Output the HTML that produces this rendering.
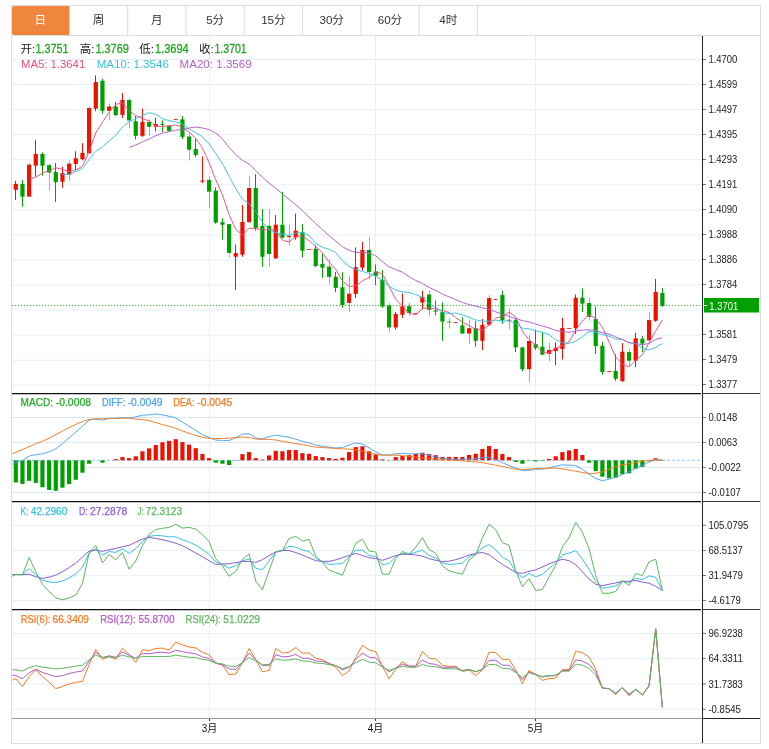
<!DOCTYPE html>
<html lang="zh"><head><meta charset="utf-8"><title>K线图</title>
<style>html,body{margin:0;padding:0;background:#fff}body{width:769px;height:749px;overflow:hidden;font-family:"Liberation Sans", "Noto Sans CJK SC", sans-serif}svg{display:block;will-change:transform;transform:translateZ(0)}text{font-family:"Liberation Sans", "Noto Sans CJK SC", sans-serif}</style>
</head><body>
<svg width="769" height="749" viewBox="0 0 769 749">
<rect x="0" y="0" width="769" height="749" fill="#fff"/>
<rect x="11.5" y="5.5" width="749" height="738" fill="none" stroke="#dcdcdc" stroke-width="1"/>
<line x1="11" y1="35.5" x2="761" y2="35.5" stroke="#dcdcdc"/>
<line x1="69.47" y1="6" x2="69.47" y2="35" stroke="#dcdcdc"/>
<line x1="127.74" y1="6" x2="127.74" y2="35" stroke="#dcdcdc"/>
<line x1="186.01" y1="6" x2="186.01" y2="35" stroke="#dcdcdc"/>
<line x1="244.28" y1="6" x2="244.28" y2="35" stroke="#dcdcdc"/>
<line x1="302.55" y1="6" x2="302.55" y2="35" stroke="#dcdcdc"/>
<line x1="360.82" y1="6" x2="360.82" y2="35" stroke="#dcdcdc"/>
<line x1="419.09" y1="6" x2="419.09" y2="35" stroke="#dcdcdc"/>
<line x1="477.36" y1="6" x2="477.36" y2="35" stroke="#dcdcdc"/>
<path d="M14 6H69V35H14Q12 35 12 33V8Q12 6 14 6Z" fill="#f0853d"/>
<text x="40.34" y="24.4" font-size="11.6" text-anchor="middle" fill="#fff">日</text>
<text x="98.61" y="24.4" font-size="11.6" text-anchor="middle" fill="#333">周</text>
<text x="156.88" y="24.4" font-size="11.6" text-anchor="middle" fill="#333">月</text>
<text x="215.15" y="24.4" font-size="11.6" text-anchor="middle" fill="#333">5分</text>
<text x="273.42" y="24.4" font-size="11.6" text-anchor="middle" fill="#333">15分</text>
<text x="331.69" y="24.4" font-size="11.6" text-anchor="middle" fill="#333">30分</text>
<text x="389.95" y="24.4" font-size="11.6" text-anchor="middle" fill="#333">60分</text>
<text x="448.23" y="24.4" font-size="11.6" text-anchor="middle" fill="#333">4时</text>
<line x1="12" y1="59.5" x2="701" y2="59.5" stroke="#e7eff6"/>
<line x1="12" y1="84.56" x2="701" y2="84.56" stroke="#e7eff6"/>
<line x1="12" y1="109.62" x2="701" y2="109.62" stroke="#e7eff6"/>
<line x1="12" y1="134.67" x2="701" y2="134.67" stroke="#e7eff6"/>
<line x1="12" y1="159.73" x2="701" y2="159.73" stroke="#e7eff6"/>
<line x1="12" y1="184.79" x2="701" y2="184.79" stroke="#e7eff6"/>
<line x1="12" y1="209.85" x2="701" y2="209.85" stroke="#e7eff6"/>
<line x1="12" y1="234.91" x2="701" y2="234.91" stroke="#e7eff6"/>
<line x1="12" y1="259.96" x2="701" y2="259.96" stroke="#e7eff6"/>
<line x1="12" y1="285.02" x2="701" y2="285.02" stroke="#e7eff6"/>
<line x1="12" y1="310.08" x2="701" y2="310.08" stroke="#e7eff6"/>
<line x1="12" y1="335.14" x2="701" y2="335.14" stroke="#e7eff6"/>
<line x1="12" y1="360.2" x2="701" y2="360.2" stroke="#e7eff6"/>
<line x1="12" y1="385.25" x2="701" y2="385.25" stroke="#e7eff6"/>
<line x1="209.5" y1="36" x2="209.5" y2="718" stroke="#e7eff6"/>
<line x1="375.5" y1="36" x2="375.5" y2="718" stroke="#e7eff6"/>
<line x1="535.5" y1="36" x2="535.5" y2="718" stroke="#e7eff6"/>
<line x1="12" y1="417.5" x2="701" y2="417.5" stroke="#d9e7f3"/>
<line x1="12" y1="442.4" x2="701" y2="442.4" stroke="#d9e7f3"/>
<line x1="12" y1="467.4" x2="701" y2="467.4" stroke="#d9e7f3"/>
<line x1="12" y1="492.5" x2="701" y2="492.5" stroke="#d9e7f3"/>
<line x1="12" y1="525.55" x2="701" y2="525.55" stroke="#e7eff6"/>
<line x1="12" y1="550.65" x2="701" y2="550.65" stroke="#e7eff6"/>
<line x1="12" y1="575.75" x2="701" y2="575.75" stroke="#e7eff6"/>
<line x1="12" y1="600.7" x2="701" y2="600.7" stroke="#e7eff6"/>
<line x1="12" y1="633.5" x2="701" y2="633.5" stroke="#e7eff6"/>
<line x1="12" y1="658.7" x2="701" y2="658.7" stroke="#e7eff6"/>
<line x1="12" y1="683.95" x2="701" y2="683.95" stroke="#e7eff6"/>
<line x1="12" y1="709.2" x2="701" y2="709.2" stroke="#e7eff6"/>
<line x1="12" y1="305.5" x2="701" y2="305.5" stroke="#3cb83c" stroke-width="1" stroke-dasharray="1.2,1.8"/>
<line x1="12" y1="460.3" x2="701" y2="460.3" stroke="#7ccaf0" stroke-width="1" stroke-dasharray="2.7,2.3"/>
<line x1="15.5" y1="180.86" x2="15.5" y2="199.87" stroke="#ee1100" stroke-width="1"/>
<rect x="13.7" y="183.85" width="4.2" height="5.98" fill="#ee1100"/>
<line x1="22.5" y1="180.01" x2="22.5" y2="206.7" stroke="#00a000" stroke-width="1"/>
<rect x="20.37" y="183.85" width="4.2" height="12.81" fill="#00a000"/>
<line x1="29.5" y1="163.14" x2="29.5" y2="196.66" stroke="#ee1100" stroke-width="1" stroke-opacity="0.5"/>
<rect x="27.03" y="164.63" width="4.2" height="32.03" fill="#ee1100"/>
<line x1="35.5" y1="140.08" x2="35.5" y2="176.38" stroke="#ee1100" stroke-width="1"/>
<rect x="33.7" y="153.96" width="4.2" height="11.74" fill="#ee1100"/>
<line x1="42.5" y1="152.46" x2="42.5" y2="175.74" stroke="#00a000" stroke-width="1"/>
<rect x="40.36" y="153.96" width="4.2" height="11.74" fill="#00a000"/>
<line x1="49.5" y1="163.57" x2="49.5" y2="190.69" stroke="#00a000" stroke-width="1" stroke-opacity="0.5"/>
<rect x="47.03" y="165.06" width="4.2" height="7.47" fill="#00a000"/>
<line x1="55.5" y1="162.93" x2="55.5" y2="202" stroke="#00a000" stroke-width="1"/>
<rect x="53.69" y="172.11" width="4.2" height="10.04" fill="#00a000"/>
<line x1="62.5" y1="166.77" x2="62.5" y2="187.7" stroke="#ee1100" stroke-width="1"/>
<rect x="60.36" y="173.18" width="4.2" height="8.54" fill="#ee1100"/>
<line x1="69.5" y1="160.36" x2="69.5" y2="180.65" stroke="#ee1100" stroke-width="1" stroke-opacity="0.5"/>
<rect x="67.03" y="163.57" width="4.2" height="11.1" fill="#ee1100"/>
<line x1="75.5" y1="151.18" x2="75.5" y2="169.97" stroke="#ee1100" stroke-width="1"/>
<rect x="73.69" y="158.23" width="4.2" height="5.77" fill="#ee1100"/>
<line x1="82.5" y1="143.28" x2="82.5" y2="160.36" stroke="#ee1100" stroke-width="1"/>
<rect x="80.36" y="152.89" width="4.2" height="6.41" fill="#ee1100"/>
<line x1="89.5" y1="105.91" x2="89.5" y2="153.32" stroke="#ee1100" stroke-width="1" stroke-opacity="0.5"/>
<rect x="87.02" y="108.05" width="4.2" height="45.27" fill="#ee1100"/>
<line x1="95.5" y1="75.37" x2="95.5" y2="111.25" stroke="#ee1100" stroke-width="1"/>
<rect x="93.69" y="81.99" width="4.2" height="26.69" fill="#ee1100"/>
<line x1="102.5" y1="78.79" x2="102.5" y2="113.81" stroke="#00a000" stroke-width="1"/>
<rect x="100.35" y="80.71" width="4.2" height="30.11" fill="#00a000"/>
<line x1="109.5" y1="103.35" x2="109.5" y2="120.22" stroke="#ee1100" stroke-width="1" stroke-opacity="0.5"/>
<rect x="107.02" y="106.55" width="4.2" height="4.27" fill="#ee1100"/>
<line x1="115.5" y1="101.64" x2="115.5" y2="115.95" stroke="#00a000" stroke-width="1"/>
<rect x="113.69" y="106.55" width="4.2" height="8.54" fill="#00a000"/>
<line x1="122.5" y1="93.1" x2="122.5" y2="118.08" stroke="#ee1100" stroke-width="1"/>
<rect x="120.35" y="99.93" width="4.2" height="14.95" fill="#ee1100"/>
<line x1="129.5" y1="98.44" x2="129.5" y2="128.33" stroke="#00a000" stroke-width="1" stroke-opacity="0.5"/>
<rect x="127.02" y="99.93" width="4.2" height="20.5" fill="#00a000"/>
<line x1="135.5" y1="115.95" x2="135.5" y2="139.44" stroke="#00a000" stroke-width="1"/>
<rect x="133.68" y="121.29" width="4.2" height="14.52" fill="#00a000"/>
<line x1="142.5" y1="108.69" x2="142.5" y2="136.87" stroke="#ee1100" stroke-width="1"/>
<rect x="140.35" y="121.93" width="4.2" height="13.88" fill="#ee1100"/>
<line x1="149.5" y1="119.36" x2="149.5" y2="135.81" stroke="#00a000" stroke-width="1" stroke-opacity="0.5"/>
<rect x="147.01" y="121.93" width="4.2" height="4.91" fill="#00a000"/>
<line x1="155.5" y1="117.66" x2="155.5" y2="131.54" stroke="#ee1100" stroke-width="1"/>
<rect x="153.68" y="124.06" width="4.2" height="2.56" fill="#ee1100"/>
<line x1="162.5" y1="120.43" x2="162.5" y2="131.96" stroke="#00a000" stroke-width="1"/>
<rect x="160.35" y="124.06" width="4.2" height="0.85" fill="#00a000"/>
<line x1="169.5" y1="125.13" x2="169.5" y2="130.89" stroke="#00a000" stroke-width="1" stroke-opacity="0.5"/>
<rect x="167.01" y="125.77" width="4.2" height="5.12" fill="#00a000"/>
<line x1="175.5" y1="118.94" x2="175.5" y2="119.58" stroke="#ee1100" stroke-width="1"/>
<rect x="173.68" y="118.94" width="4.2" height="0.8" fill="#ee1100"/>
<line x1="182.5" y1="115.95" x2="182.5" y2="139.01" stroke="#00a000" stroke-width="1"/>
<rect x="180.34" y="119.36" width="4.2" height="17.51" fill="#00a000"/>
<line x1="189.5" y1="132.6" x2="189.5" y2="160.36" stroke="#00a000" stroke-width="1" stroke-opacity="0.5"/>
<rect x="187.01" y="136.45" width="4.2" height="13.24" fill="#00a000"/>
<line x1="195.5" y1="139.01" x2="195.5" y2="157.16" stroke="#00a000" stroke-width="1"/>
<rect x="193.67" y="149.05" width="4.2" height="5.98" fill="#00a000"/>
<line x1="202.5" y1="156.41" x2="202.5" y2="183.1" stroke="#ee1100" stroke-width="1"/>
<rect x="200.34" y="180.54" width="4.2" height="1.07" fill="#ee1100"/>
<line x1="209.5" y1="176.05" x2="209.5" y2="207.66" stroke="#00a000" stroke-width="1" stroke-opacity="0.5"/>
<rect x="207.01" y="179.9" width="4.2" height="11.74" fill="#00a000"/>
<line x1="215.5" y1="187.37" x2="215.5" y2="223.67" stroke="#00a000" stroke-width="1"/>
<rect x="213.67" y="190.57" width="4.2" height="32.03" fill="#00a000"/>
<line x1="222.5" y1="218.33" x2="222.5" y2="239.69" stroke="#00a000" stroke-width="1"/>
<rect x="220.34" y="222.18" width="4.2" height="2.56" fill="#00a000"/>
<line x1="229.5" y1="224.1" x2="229.5" y2="257.41" stroke="#00a000" stroke-width="1" stroke-opacity="0.5"/>
<rect x="227" y="224.1" width="4.2" height="28.83" fill="#00a000"/>
<line x1="235.5" y1="244.38" x2="235.5" y2="289.87" stroke="#ee1100" stroke-width="1"/>
<rect x="233.67" y="253.14" width="4.2" height="3.63" fill="#ee1100"/>
<line x1="242.5" y1="205.09" x2="242.5" y2="256.77" stroke="#ee1100" stroke-width="1"/>
<rect x="240.33" y="221.96" width="4.2" height="32.67" fill="#ee1100"/>
<line x1="249.5" y1="176.27" x2="249.5" y2="223.24" stroke="#ee1100" stroke-width="1" stroke-opacity="0.5"/>
<rect x="247" y="188.01" width="4.2" height="34.17" fill="#ee1100"/>
<line x1="255.5" y1="174.13" x2="255.5" y2="230.5" stroke="#00a000" stroke-width="1"/>
<rect x="253.67" y="188.01" width="4.2" height="39.93" fill="#00a000"/>
<line x1="262.5" y1="209.15" x2="262.5" y2="266.81" stroke="#00a000" stroke-width="1"/>
<rect x="260.33" y="225.81" width="4.2" height="30.96" fill="#00a000"/>
<line x1="269.5" y1="209.15" x2="269.5" y2="266.81" stroke="#00a000" stroke-width="1" stroke-opacity="0.5"/>
<rect x="267" y="225.81" width="4.2" height="28.19" fill="#00a000"/>
<line x1="275.5" y1="215.13" x2="275.5" y2="258.9" stroke="#ee1100" stroke-width="1"/>
<rect x="273.66" y="224.74" width="4.2" height="33.53" fill="#ee1100"/>
<line x1="282.5" y1="192.07" x2="282.5" y2="238.62" stroke="#00a000" stroke-width="1"/>
<rect x="280.33" y="224.74" width="4.2" height="12.81" fill="#00a000"/>
<line x1="289.5" y1="224.31" x2="289.5" y2="245.45" stroke="#ee1100" stroke-width="1" stroke-opacity="0.5"/>
<rect x="286.99" y="236.06" width="4.2" height="1.07" fill="#ee1100"/>
<line x1="295.5" y1="213.63" x2="295.5" y2="239.69" stroke="#ee1100" stroke-width="1"/>
<rect x="293.66" y="230.72" width="4.2" height="6.83" fill="#ee1100"/>
<line x1="302.5" y1="224.1" x2="302.5" y2="257.41" stroke="#00a000" stroke-width="1"/>
<rect x="300.33" y="232.21" width="4.2" height="18.58" fill="#00a000"/>
<line x1="309.5" y1="249.08" x2="309.5" y2="249.72" stroke="#ee1100" stroke-width="1" stroke-opacity="0.5"/>
<rect x="306.99" y="249.08" width="4.2" height="0.8" fill="#ee1100"/>
<line x1="315.5" y1="245.23" x2="315.5" y2="267.01" stroke="#00a000" stroke-width="1"/>
<rect x="313.66" y="248.86" width="4.2" height="17.08" fill="#00a000"/>
<line x1="322.5" y1="253.78" x2="322.5" y2="277.91" stroke="#00a000" stroke-width="1"/>
<rect x="320.32" y="264.03" width="4.2" height="3.63" fill="#00a000"/>
<line x1="329.5" y1="259.54" x2="329.5" y2="284.74" stroke="#00a000" stroke-width="1" stroke-opacity="0.5"/>
<rect x="326.99" y="266.59" width="4.2" height="10.25" fill="#00a000"/>
<line x1="335.5" y1="271.93" x2="335.5" y2="292.21" stroke="#00a000" stroke-width="1"/>
<rect x="333.65" y="276.84" width="4.2" height="11.1" fill="#00a000"/>
<line x1="342.5" y1="272.35" x2="342.5" y2="307.8" stroke="#00a000" stroke-width="1"/>
<rect x="340.32" y="287.3" width="4.2" height="17.72" fill="#00a000"/>
<line x1="349.5" y1="276.2" x2="349.5" y2="311.86" stroke="#ee1100" stroke-width="1" stroke-opacity="0.5"/>
<rect x="346.99" y="293.71" width="4.2" height="9.18" fill="#ee1100"/>
<line x1="355.5" y1="247.37" x2="355.5" y2="297.98" stroke="#ee1100" stroke-width="1"/>
<rect x="353.65" y="267.23" width="4.2" height="26.69" fill="#ee1100"/>
<line x1="362.5" y1="242.03" x2="362.5" y2="270.43" stroke="#ee1100" stroke-width="1"/>
<rect x="360.32" y="249.93" width="4.2" height="17.72" fill="#ee1100"/>
<line x1="369.5" y1="236.69" x2="369.5" y2="279.4" stroke="#00a000" stroke-width="1" stroke-opacity="0.5"/>
<rect x="366.98" y="249.93" width="4.2" height="21.99" fill="#00a000"/>
<line x1="375.5" y1="264.45" x2="375.5" y2="285.17" stroke="#00a000" stroke-width="1"/>
<rect x="373.65" y="271.5" width="4.2" height="4.27" fill="#00a000"/>
<line x1="382.5" y1="270.22" x2="382.5" y2="307.8" stroke="#00a000" stroke-width="1"/>
<rect x="380.31" y="279.83" width="4.2" height="26.69" fill="#00a000"/>
<line x1="389.5" y1="302.89" x2="389.5" y2="332.78" stroke="#00a000" stroke-width="1" stroke-opacity="0.5"/>
<rect x="386.98" y="305.45" width="4.2" height="21.99" fill="#00a000"/>
<line x1="395.5" y1="312.07" x2="395.5" y2="329.58" stroke="#ee1100" stroke-width="1"/>
<rect x="393.64" y="313.99" width="4.2" height="13.45" fill="#ee1100"/>
<line x1="402.5" y1="293.38" x2="402.5" y2="317.94" stroke="#ee1100" stroke-width="1"/>
<rect x="400.31" y="306.2" width="4.2" height="8.54" fill="#ee1100"/>
<line x1="409.5" y1="302.57" x2="409.5" y2="315.81" stroke="#00a000" stroke-width="1" stroke-opacity="0.5"/>
<rect x="406.98" y="306.2" width="4.2" height="6.83" fill="#00a000"/>
<line x1="415.5" y1="313.03" x2="415.5" y2="313.67" stroke="#ee1100" stroke-width="1"/>
<rect x="413.64" y="313.03" width="4.2" height="0.8" fill="#ee1100"/>
<line x1="422.5" y1="290.82" x2="422.5" y2="309.4" stroke="#ee1100" stroke-width="1"/>
<rect x="420.31" y="297.01" width="4.2" height="5.55" fill="#ee1100"/>
<line x1="429.5" y1="290.18" x2="429.5" y2="316.23" stroke="#00a000" stroke-width="1" stroke-opacity="0.5"/>
<rect x="426.97" y="294.45" width="4.2" height="15.37" fill="#00a000"/>
<line x1="435.5" y1="300.43" x2="435.5" y2="315.38" stroke="#00a000" stroke-width="1"/>
<rect x="433.64" y="310.47" width="4.2" height="1.07" fill="#00a000"/>
<line x1="442.5" y1="302.35" x2="442.5" y2="340.79" stroke="#00a000" stroke-width="1"/>
<rect x="440.3" y="312.18" width="4.2" height="9.4" fill="#00a000"/>
<line x1="449.5" y1="317.94" x2="449.5" y2="328.62" stroke="#00a000" stroke-width="1" stroke-opacity="0.5"/>
<rect x="446.97" y="321.57" width="4.2" height="0.85" fill="#00a000"/>
<line x1="455.5" y1="322" x2="455.5" y2="322.64" stroke="#ee1100" stroke-width="1"/>
<rect x="453.64" y="322" width="4.2" height="0.8" fill="#ee1100"/>
<line x1="462.5" y1="317.3" x2="462.5" y2="333.53" stroke="#00a000" stroke-width="1"/>
<rect x="460.3" y="325.42" width="4.2" height="8.11" fill="#00a000"/>
<line x1="469.5" y1="319.44" x2="469.5" y2="344.21" stroke="#ee1100" stroke-width="1" stroke-opacity="0.5"/>
<rect x="466.97" y="328.19" width="4.2" height="5.34" fill="#ee1100"/>
<line x1="475.5" y1="321.14" x2="475.5" y2="346.77" stroke="#00a000" stroke-width="1"/>
<rect x="473.63" y="328.19" width="4.2" height="12.6" fill="#00a000"/>
<line x1="482.5" y1="319.01" x2="482.5" y2="349.97" stroke="#ee1100" stroke-width="1"/>
<rect x="480.3" y="324.77" width="4.2" height="16.02" fill="#ee1100"/>
<line x1="489.5" y1="295.09" x2="489.5" y2="325.42" stroke="#ee1100" stroke-width="1" stroke-opacity="0.5"/>
<rect x="486.96" y="298.08" width="4.2" height="26.69" fill="#ee1100"/>
<line x1="495.5" y1="298.94" x2="495.5" y2="299.58" stroke="#ee1100" stroke-width="1"/>
<rect x="493.63" y="298.94" width="4.2" height="0.8" fill="#ee1100"/>
<line x1="502.5" y1="290.82" x2="502.5" y2="323.92" stroke="#00a000" stroke-width="1"/>
<rect x="500.3" y="295.09" width="4.2" height="25.41" fill="#00a000"/>
<line x1="509.5" y1="308.33" x2="509.5" y2="329.69" stroke="#ee1100" stroke-width="1" stroke-opacity="0.5"/>
<rect x="506.96" y="319.86" width="4.2" height="0.85" fill="#ee1100"/>
<line x1="515.5" y1="318.58" x2="515.5" y2="352.11" stroke="#00a000" stroke-width="1"/>
<rect x="513.63" y="320.08" width="4.2" height="27.33" fill="#00a000"/>
<line x1="522.5" y1="346.77" x2="522.5" y2="371.33" stroke="#00a000" stroke-width="1"/>
<rect x="520.29" y="347.41" width="4.2" height="21.78" fill="#00a000"/>
<line x1="529.5" y1="335.45" x2="529.5" y2="382" stroke="#ee1100" stroke-width="1" stroke-opacity="0.5"/>
<rect x="526.96" y="341" width="4.2" height="28.19" fill="#ee1100"/>
<line x1="535.5" y1="329.69" x2="535.5" y2="349.97" stroke="#00a000" stroke-width="1"/>
<rect x="533.62" y="344.21" width="4.2" height="3.63" fill="#00a000"/>
<line x1="542.5" y1="332.25" x2="542.5" y2="354.67" stroke="#00a000" stroke-width="1"/>
<rect x="540.29" y="346.77" width="4.2" height="7.9" fill="#00a000"/>
<line x1="549.5" y1="342.07" x2="549.5" y2="361.08" stroke="#ee1100" stroke-width="1" stroke-opacity="0.5"/>
<rect x="546.96" y="349.97" width="4.2" height="3.84" fill="#ee1100"/>
<line x1="555.5" y1="342.5" x2="555.5" y2="364.92" stroke="#ee1100" stroke-width="1"/>
<rect x="553.62" y="347.84" width="4.2" height="3.2" fill="#ee1100"/>
<line x1="562.5" y1="317.94" x2="562.5" y2="359.58" stroke="#ee1100" stroke-width="1"/>
<rect x="560.29" y="327.98" width="4.2" height="20.93" fill="#ee1100"/>
<line x1="569.5" y1="327.98" x2="569.5" y2="328.62" stroke="#ee1100" stroke-width="1" stroke-opacity="0.5"/>
<rect x="566.95" y="327.98" width="4.2" height="0.8" fill="#ee1100"/>
<line x1="575.5" y1="294.45" x2="575.5" y2="333.96" stroke="#ee1100" stroke-width="1"/>
<rect x="573.62" y="297.66" width="4.2" height="30.54" fill="#ee1100"/>
<line x1="582.5" y1="288.47" x2="582.5" y2="311.96" stroke="#00a000" stroke-width="1"/>
<rect x="580.28" y="297.66" width="4.2" height="5.98" fill="#00a000"/>
<line x1="589.5" y1="297.66" x2="589.5" y2="320.72" stroke="#00a000" stroke-width="1" stroke-opacity="0.5"/>
<rect x="586.95" y="302.99" width="4.2" height="13.88" fill="#00a000"/>
<line x1="595.5" y1="306.62" x2="595.5" y2="353.82" stroke="#00a000" stroke-width="1"/>
<rect x="593.62" y="319.01" width="4.2" height="27.12" fill="#00a000"/>
<line x1="602.5" y1="342.07" x2="602.5" y2="374.96" stroke="#00a000" stroke-width="1"/>
<rect x="600.28" y="345.7" width="4.2" height="26.27" fill="#00a000"/>
<line x1="609.5" y1="371.11" x2="609.5" y2="371.75" stroke="#ee1100" stroke-width="1" stroke-opacity="0.5"/>
<rect x="606.95" y="371.11" width="4.2" height="0.8" fill="#ee1100"/>
<line x1="615.5" y1="354.24" x2="615.5" y2="380.94" stroke="#00a000" stroke-width="1"/>
<rect x="613.61" y="370.9" width="4.2" height="7.9" fill="#00a000"/>
<line x1="622.5" y1="343.14" x2="622.5" y2="382" stroke="#ee1100" stroke-width="1"/>
<rect x="620.28" y="351.68" width="4.2" height="29.25" fill="#ee1100"/>
<line x1="629.5" y1="348.48" x2="629.5" y2="365.99" stroke="#00a000" stroke-width="1" stroke-opacity="0.5"/>
<rect x="626.94" y="352.11" width="4.2" height="8.54" fill="#00a000"/>
<line x1="635.5" y1="332.89" x2="635.5" y2="367.06" stroke="#ee1100" stroke-width="1"/>
<rect x="633.61" y="338.23" width="4.2" height="22.42" fill="#ee1100"/>
<line x1="642.5" y1="336.09" x2="642.5" y2="352.11" stroke="#00a000" stroke-width="1"/>
<rect x="640.28" y="338.87" width="4.2" height="4.7" fill="#00a000"/>
<line x1="649.5" y1="312.18" x2="649.5" y2="341.43" stroke="#ee1100" stroke-width="1" stroke-opacity="0.5"/>
<rect x="646.94" y="320.08" width="4.2" height="20.29" fill="#ee1100"/>
<line x1="655.5" y1="278.86" x2="655.5" y2="321.79" stroke="#ee1100" stroke-width="1"/>
<rect x="653.61" y="291.89" width="4.2" height="28.83" fill="#ee1100"/>
<line x1="662.5" y1="288.05" x2="662.5" y2="306.84" stroke="#00a000" stroke-width="1"/>
<rect x="660.27" y="292.96" width="4.2" height="12.81" fill="#00a000"/>
<path fill="none" stroke="#ee4d7e" stroke-width="1.0" stroke-linejoin="round" d="M29.13 179.5C29.41 179.4 35.24 177.47 35.8 177.2C36.35 176.93 41.91 173.23 42.46 172.96C43.02 172.69 48.57 170.91 49.13 170.7C49.68 170.48 55.24 167.84 55.79 167.79C56.35 167.79 61.9 169.35 62.46 169.5C63.02 169.65 68.57 171.41 69.13 171.42C69.68 171.42 75.24 170.16 75.79 169.93C76.35 169.7 81.9 166.78 82.46 166C83.01 165.22 88.57 152.56 89.12 151.18C89.68 149.8 95.23 134.14 95.79 132.94C96.34 131.75 101.9 123.27 102.45 122.4C103.01 121.53 108.56 112.81 109.12 112.06C109.68 111.32 115.23 104.88 115.79 104.5C116.34 104.12 121.9 102.88 122.45 102.88C123.01 103.13 128.56 110.04 129.12 110.57C129.67 111.09 135.23 115.23 135.78 115.56C136.34 115.9 141.89 118.41 142.45 118.64C143 118.86 148.56 120.69 149.11 120.99C149.67 121.29 155.22 125.57 155.78 125.81C156.34 126.05 161.89 126.71 162.45 126.71C163 126.71 168.56 125.79 169.11 125.73C169.67 125.66 175.22 125.13 175.78 125.13C176.33 125.19 181.89 126.84 182.44 127.14C183 127.43 188.55 131.8 189.11 132.26C189.66 132.73 195.22 137.62 195.77 138.28C196.33 138.95 201.88 147.19 202.44 148.21C203 149.23 208.55 161.43 209.11 162.75C209.66 164.07 215.22 178.56 215.77 179.9C216.33 181.24 221.88 193.47 222.44 194.91C222.99 196.35 228.55 213.07 229.1 214.49C229.66 215.91 235.21 228.15 235.77 229.01C236.32 229.87 241.88 235.07 242.43 235.07C242.99 235.04 248.54 228.42 249.1 228.16C249.65 228.16 255.21 228.74 255.77 228.8C256.32 228.85 261.88 229.53 262.43 229.56C262.99 229.6 268.54 229.7 269.1 229.74C269.65 229.77 275.21 229.85 275.76 230.29C276.32 230.73 281.87 239.72 282.43 240.2C282.98 240.68 288.54 241.82 289.09 241.82C289.65 241.67 295.2 236.85 295.76 236.61C296.31 236.37 301.87 235.97 302.43 235.97C302.98 236.15 308.54 240.4 309.09 240.84C309.65 241.28 315.2 246.02 315.76 246.52C316.31 247.02 321.87 252.19 322.42 252.84C322.98 253.49 328.53 261.37 329.09 262.06C329.64 262.76 335.2 268.72 335.75 269.49C336.31 270.27 341.86 279.98 342.42 280.68C342.97 281.38 348.53 286.01 349.09 286.23C349.64 286.23 355.2 286.23 355.75 286.15C356.31 285.92 361.86 281.12 362.42 280.77C362.97 280.41 368.53 277.94 369.08 277.56C369.64 277.19 375.19 271.85 375.75 271.71C376.3 271.71 381.86 273.67 382.41 274.28C382.97 274.88 388.52 285.28 389.08 286.32C389.63 287.35 395.19 298.31 395.74 299.13C396.3 299.95 401.86 305.39 402.41 305.99C402.97 306.58 408.52 313.07 409.08 313.44C409.63 313.8 415.19 314.74 415.74 314.74C416.3 314.54 421.85 308.94 422.41 308.65C422.96 308.36 428.52 307.82 429.07 307.82C429.63 307.83 435.18 308.77 435.74 308.89C436.29 309 441.85 310.45 442.4 310.6C442.96 310.75 448.52 312.19 449.07 312.47C449.63 312.76 455.18 317.07 455.74 317.47C456.29 317.88 461.85 321.88 462.4 322.21C462.96 322.55 468.51 325.24 469.07 325.54C469.62 325.84 475.18 329.21 475.73 329.39C476.29 329.57 481.84 329.86 482.4 329.86C482.95 329.68 488.51 325.56 489.06 325.07C489.62 324.59 495.17 318.51 495.73 318.16C496.29 317.8 501.84 316.86 502.4 316.62C502.95 316.38 508.51 312.43 509.06 312.43C509.62 312.45 515.17 316.18 515.73 316.96C516.28 317.74 521.84 330.24 522.39 331.18C522.95 332.12 528.5 339.02 529.06 339.59C529.61 340.17 535.17 344.54 535.72 345.06C536.28 345.58 541.83 351.71 542.39 352.02C542.95 352.33 548.5 352.53 549.06 352.53C549.61 352.38 555.17 348.55 555.72 348.26C556.28 347.98 561.83 345.93 562.39 345.66C562.94 345.38 568.5 342.33 569.05 341.69C569.61 341.05 575.16 331.15 575.72 330.28C576.27 329.42 581.83 321.66 582.38 321.02C582.94 320.37 588.49 314.93 589.05 314.82C589.61 314.82 595.16 317.94 595.72 318.45C596.27 318.97 601.83 326.27 602.38 327.25C602.94 328.23 608.49 340.7 609.05 341.94C609.6 343.18 615.16 356.06 615.71 356.98C616.27 357.89 621.82 363.53 622.38 363.94C622.93 364.35 628.49 366.84 629.04 366.84C629.6 366.68 635.15 360.6 635.71 360.09C636.27 359.58 641.82 355.3 642.38 354.58C642.93 353.87 648.49 343.83 649.04 342.84C649.6 341.85 655.15 331.84 655.71 330.88C656.26 329.93 662.1 320.36 662.37 319.91"/>
<path fill="none" stroke="#35c3e3" stroke-width="1.0" stroke-linejoin="round" d="M62.46 174.67C62.74 174.65 68.57 174.38 69.13 174.24C69.68 174.11 75.24 171.69 75.79 171.45C76.35 171.2 81.9 168.85 82.46 168.35C83.01 167.85 88.57 160.2 89.12 159.49C89.68 158.77 95.23 151.75 95.79 151.22C96.34 150.7 101.9 147.34 102.45 146.91C103.01 146.48 108.56 141.48 109.12 141C109.68 140.51 115.23 135.83 115.79 135.25C116.34 134.67 121.9 127.59 122.45 127.03C123.01 126.47 128.56 122.09 129.12 121.76C129.67 121.42 135.23 119.25 135.78 118.98C136.34 118.71 141.89 115.61 142.45 115.35C143 115.09 148.56 112.79 149.11 112.74C149.67 112.74 155.22 114.1 155.78 114.35C156.34 114.59 161.89 118.38 162.45 118.64C163 118.9 168.56 120.51 169.11 120.64C169.67 120.78 175.22 121.74 175.78 121.88C176.33 122.03 181.89 123.76 182.44 124.06C183 124.36 188.55 128.69 189.11 129.04C189.66 129.39 195.22 132.17 195.77 132.5C196.33 132.83 201.88 136.49 202.44 136.97C203 137.45 208.55 143.25 209.11 143.94C209.66 144.63 215.22 152.7 215.77 153.52C216.33 154.34 221.88 162.63 222.44 163.58C222.99 164.54 228.55 175.34 229.1 176.39C229.66 177.43 235.21 187.67 235.77 188.61C236.32 189.55 241.88 198.27 242.43 198.91C242.99 199.56 248.54 203.49 249.1 204.03C249.65 204.57 255.21 211.1 255.77 211.85C256.32 212.6 261.88 221.3 262.43 222.03C262.99 222.76 268.54 228.93 269.1 229.37C269.65 229.82 275.21 232.48 275.76 232.68C276.32 232.88 281.87 234.07 282.43 234.18C282.98 234.29 288.54 235.31 289.09 235.31C289.65 235.26 295.2 233.19 295.76 233.09C296.31 232.99 301.87 232.85 302.43 232.85C302.98 232.96 308.54 235.13 309.09 235.56C309.65 236 315.2 242.87 315.76 243.36C316.31 243.85 321.87 247.08 322.42 247.33C322.98 247.58 328.53 249.11 329.09 249.34C329.64 249.56 335.2 252.26 335.75 252.73C336.31 253.21 341.86 260.19 342.42 260.76C342.97 261.33 348.53 266.01 349.09 266.38C349.64 266.74 355.2 269.28 355.75 269.49C356.31 269.7 361.86 271.25 362.42 271.41C362.97 271.58 368.53 273.33 369.08 273.53C369.64 273.73 375.19 275.92 375.75 276.2C376.3 276.48 381.86 279.84 382.41 280.25C382.97 280.67 388.52 285.83 389.08 286.23C389.63 286.64 395.19 289.72 395.74 289.95C396.3 290.18 401.86 291.66 402.41 291.77C402.97 291.88 408.52 292.46 409.08 292.57C409.63 292.69 415.19 294.3 415.74 294.51C416.3 294.71 421.85 297.11 422.41 297.49C422.96 297.86 428.52 303.06 429.07 303.48C429.63 303.89 435.18 307.08 435.74 307.44C436.29 307.79 441.85 311.76 442.4 312.02C442.96 312.27 448.52 313.56 449.07 313.61C449.63 313.61 455.18 313.06 455.74 313.06C456.29 313.12 461.85 314.84 462.4 315.02C462.96 315.19 468.51 317.01 469.07 317.22C469.62 317.42 475.18 319.83 475.73 319.99C476.29 320.16 481.84 321.11 482.4 321.17C482.95 321.22 488.51 321.27 489.06 321.27C489.62 321.23 495.17 320.19 495.73 320.18C496.29 320.18 501.84 321.05 502.4 321.08C502.95 321.08 508.51 320.91 509.06 320.91C509.62 321.01 515.17 323.11 515.73 323.41C516.28 323.71 521.84 327.9 522.39 328.13C522.95 328.36 528.5 328.76 529.06 328.87C529.61 328.99 535.17 330.7 535.72 330.84C536.28 330.98 541.83 332.06 542.39 332.23C542.95 332.39 548.5 334.43 549.06 334.75C549.61 335.06 555.17 339.39 555.72 339.72C556.28 340.05 561.83 342.47 562.39 342.63C562.94 342.78 568.5 343.37 569.05 343.37C569.61 343.31 575.16 341.43 575.72 341.15C576.27 340.88 581.83 337.18 582.38 336.78C582.94 336.38 588.49 331.74 589.05 331.54C589.61 331.54 595.16 331.93 595.72 332.06C596.27 332.18 601.83 334.3 602.38 334.47C602.94 334.64 608.49 335.92 609.05 336.11C609.6 336.3 615.16 338.86 615.71 339C616.27 339.13 621.82 339.23 622.38 339.38C622.93 339.53 628.49 342.47 629.04 342.65C629.6 342.83 635.15 343.44 635.71 343.67C636.27 343.91 641.82 348 642.38 348.26C642.93 348.52 648.49 349.91 649.04 349.91C649.6 349.87 655.15 347.68 655.71 347.41C656.26 347.14 662.1 343.54 662.37 343.37"/>
<path fill="none" stroke="#b45ccc" stroke-width="1.0" stroke-linejoin="round" d="M129.12 147.5C129.39 147.4 135.23 145.23 135.78 145C136.34 144.77 141.89 142.15 142.45 141.9C143 141.65 148.56 139.15 149.11 138.9C149.67 138.65 155.22 136.04 155.78 135.8C156.34 135.56 161.89 133.38 162.45 133.2C163 133.02 168.56 131.73 169.11 131.6C169.67 131.47 175.22 130.18 175.78 130.1C176.33 130.02 181.89 129.74 182.44 129.66C183 129.57 188.55 128.14 189.11 128.03C189.66 127.93 195.22 127.13 195.77 127.13C196.33 127.13 201.88 127.87 202.44 127.97C203 128.08 208.55 129.43 209.11 129.64C209.66 129.86 215.22 132.74 215.77 133.13C216.33 133.52 221.88 138.37 222.44 138.97C222.99 139.56 228.55 146.86 229.1 147.51C229.66 148.16 235.21 154.09 235.77 154.63C236.32 155.16 241.88 160.01 242.43 160.4C242.99 160.79 248.54 163.63 249.1 164.04C249.65 164.46 255.21 169.89 255.77 170.44C256.32 171 261.88 176.73 262.43 177.26C262.99 177.79 268.54 182.71 269.1 183.17C269.65 183.63 275.21 187.87 275.76 188.31C276.32 188.76 281.87 193.38 282.43 193.85C282.98 194.31 288.54 198.99 289.09 199.45C289.65 199.9 295.2 204.27 295.76 204.74C296.31 205.21 301.87 210.21 302.43 210.73C302.98 211.25 308.54 216.7 309.09 217.24C309.65 217.78 315.2 223.18 315.76 223.69C316.31 224.21 321.87 229.09 322.42 229.59C322.98 230.09 328.53 235.2 329.09 235.68C329.64 236.16 335.2 240.59 335.75 241.05C336.31 241.51 341.86 246.34 342.42 246.72C342.97 247.11 348.53 250.04 349.09 250.28C349.64 250.51 355.2 252.32 355.75 252.4C356.31 252.4 361.86 252.25 362.42 252.25C362.97 252.28 368.53 253.04 369.08 253.19C369.64 253.34 375.19 255.52 375.75 255.88C376.3 256.24 381.86 261.35 382.41 261.81C382.97 262.26 388.52 266.45 389.08 266.78C389.63 267.11 395.19 269.41 395.74 269.64C396.3 269.87 401.86 271.96 402.41 272.25C402.97 272.55 408.52 276.33 409.08 276.67C409.63 277.01 415.19 280.16 415.74 280.44C416.3 280.73 421.85 283.2 422.41 283.49C422.96 283.78 428.52 287.15 429.07 287.44C429.63 287.74 435.18 290.2 435.74 290.48C436.29 290.76 441.85 293.84 442.4 294.11C442.96 294.38 448.52 296.7 449.07 296.93C449.63 297.16 455.18 299.42 455.74 299.65C456.29 299.88 461.85 302.28 462.4 302.48C462.96 302.68 468.51 304.34 469.07 304.49C469.62 304.65 475.18 306.14 475.73 306.28C476.29 306.42 481.84 307.71 482.4 307.84C482.95 307.97 488.51 309.21 489.06 309.38C489.62 309.55 495.17 311.63 495.73 311.83C496.29 312.03 501.84 314.07 502.4 314.26C502.95 314.45 508.51 316.29 509.06 316.46C509.62 316.64 515.17 318.34 515.73 318.51C516.28 318.68 521.84 320.45 522.39 320.59C522.95 320.74 528.5 321.8 529.06 321.95C529.61 322.09 535.17 323.85 535.72 324.03C536.28 324.2 541.83 325.95 542.39 326.11C542.95 326.27 548.5 327.77 549.06 327.96C549.61 328.14 555.17 330.35 555.72 330.5C556.28 330.64 561.83 331.33 562.39 331.41C562.94 331.48 568.5 332.23 569.05 332.23C569.61 332.21 575.16 331.12 575.72 331.03C576.27 330.94 581.83 330.14 582.38 330.09C582.94 330.04 588.49 329.84 589.05 329.84C589.61 329.85 595.16 330.35 595.72 330.47C596.27 330.58 601.83 332.5 602.38 332.65C602.94 332.81 608.49 333.99 609.05 334.17C609.6 334.35 615.16 336.65 615.71 336.87C616.27 337.1 621.82 339.31 622.38 339.55C622.93 339.79 628.49 342.47 629.04 342.64C629.6 342.8 635.15 343.44 635.71 343.52C636.27 343.61 641.82 344.71 642.38 344.71C642.93 344.7 648.49 343.56 649.04 343.34C649.6 343.12 655.15 339.71 655.71 339.48C656.26 339.24 662.1 337.79 662.37 337.72"/>
<rect x="13.7" y="460.3" width="4.2" height="22.17" fill="#00a000"/>
<rect x="20.37" y="460.3" width="4.2" height="23.63" fill="#00a000"/>
<rect x="27.03" y="460.3" width="4.2" height="20.51" fill="#00a000"/>
<rect x="33.7" y="460.3" width="4.2" height="22.59" fill="#00a000"/>
<rect x="40.36" y="460.3" width="4.2" height="26.96" fill="#00a000"/>
<rect x="47.03" y="460.3" width="4.2" height="29.66" fill="#00a000"/>
<rect x="53.69" y="460.3" width="4.2" height="30.49" fill="#00a000"/>
<rect x="60.36" y="460.3" width="4.2" height="27.37" fill="#00a000"/>
<rect x="67.03" y="460.3" width="4.2" height="23.84" fill="#00a000"/>
<rect x="73.69" y="460.3" width="4.2" height="19.47" fill="#00a000"/>
<rect x="80.36" y="460.3" width="4.2" height="12.39" fill="#00a000"/>
<rect x="87.02" y="460.3" width="4.2" height="3.44" fill="#00a000"/>
<rect x="100.35" y="460.3" width="4.2" height="2.4" fill="#00a000"/>
<rect x="113.69" y="459.17" width="4.2" height="1.13" fill="#ee1100"/>
<rect x="120.35" y="457.09" width="4.2" height="3.21" fill="#ee1100"/>
<rect x="127.02" y="458.13" width="4.2" height="2.17" fill="#ee1100"/>
<rect x="133.68" y="456.25" width="4.2" height="4.05" fill="#ee1100"/>
<rect x="140.35" y="451.26" width="4.2" height="9.04" fill="#ee1100"/>
<rect x="147.01" y="448.35" width="4.2" height="11.95" fill="#ee1100"/>
<rect x="153.68" y="445.02" width="4.2" height="15.28" fill="#ee1100"/>
<rect x="160.35" y="442.31" width="4.2" height="17.99" fill="#ee1100"/>
<rect x="167.01" y="440.86" width="4.2" height="19.44" fill="#ee1100"/>
<rect x="173.68" y="439.19" width="4.2" height="21.11" fill="#ee1100"/>
<rect x="180.34" y="442.11" width="4.2" height="18.19" fill="#ee1100"/>
<rect x="187.01" y="444.6" width="4.2" height="15.7" fill="#ee1100"/>
<rect x="193.67" y="448.14" width="4.2" height="12.16" fill="#ee1100"/>
<rect x="200.34" y="453.97" width="4.2" height="6.33" fill="#ee1100"/>
<rect x="207.01" y="458.13" width="4.2" height="2.17" fill="#ee1100"/>
<rect x="213.67" y="460.3" width="4.2" height="2.4" fill="#00a000"/>
<rect x="220.34" y="460.3" width="4.2" height="3.44" fill="#00a000"/>
<rect x="227" y="460.3" width="4.2" height="4.69" fill="#00a000"/>
<rect x="233.67" y="460.3" width="4.2" height="0.32" fill="#00a000"/>
<rect x="240.33" y="454.17" width="4.2" height="6.13" fill="#ee1100"/>
<rect x="247" y="452.09" width="4.2" height="8.21" fill="#ee1100"/>
<rect x="253.67" y="458.13" width="4.2" height="2.17" fill="#ee1100"/>
<rect x="260.33" y="459.58" width="4.2" height="0.72" fill="#ee1100"/>
<rect x="267" y="455.42" width="4.2" height="4.88" fill="#ee1100"/>
<rect x="273.66" y="450.84" width="4.2" height="9.46" fill="#ee1100"/>
<rect x="280.33" y="451.26" width="4.2" height="9.04" fill="#ee1100"/>
<rect x="286.99" y="450.01" width="4.2" height="10.29" fill="#ee1100"/>
<rect x="293.66" y="450.01" width="4.2" height="10.29" fill="#ee1100"/>
<rect x="300.33" y="453.13" width="4.2" height="7.17" fill="#ee1100"/>
<rect x="306.99" y="453.76" width="4.2" height="6.54" fill="#ee1100"/>
<rect x="313.66" y="456.05" width="4.2" height="4.25" fill="#ee1100"/>
<rect x="320.32" y="457.09" width="4.2" height="3.21" fill="#ee1100"/>
<rect x="326.99" y="458.13" width="4.2" height="2.17" fill="#ee1100"/>
<rect x="333.65" y="458.96" width="4.2" height="1.34" fill="#ee1100"/>
<rect x="340.32" y="457.71" width="4.2" height="2.59" fill="#ee1100"/>
<rect x="346.99" y="452.09" width="4.2" height="8.21" fill="#ee1100"/>
<rect x="353.65" y="447.1" width="4.2" height="13.2" fill="#ee1100"/>
<rect x="360.32" y="446.27" width="4.2" height="14.03" fill="#ee1100"/>
<rect x="366.98" y="451.26" width="4.2" height="9.04" fill="#ee1100"/>
<rect x="373.65" y="454.38" width="4.2" height="5.92" fill="#ee1100"/>
<rect x="380.31" y="459.38" width="4.2" height="0.92" fill="#ee1100"/>
<rect x="386.98" y="460.3" width="4.2" height="0.32" fill="#00a000"/>
<rect x="393.64" y="457.09" width="4.2" height="3.21" fill="#ee1100"/>
<rect x="400.31" y="456.05" width="4.2" height="4.25" fill="#ee1100"/>
<rect x="406.98" y="455.21" width="4.2" height="5.09" fill="#ee1100"/>
<rect x="413.64" y="453.97" width="4.2" height="6.33" fill="#ee1100"/>
<rect x="420.31" y="452.72" width="4.2" height="7.58" fill="#ee1100"/>
<rect x="426.97" y="454.17" width="4.2" height="6.13" fill="#ee1100"/>
<rect x="433.64" y="455.21" width="4.2" height="5.09" fill="#ee1100"/>
<rect x="440.3" y="456.88" width="4.2" height="3.42" fill="#ee1100"/>
<rect x="446.97" y="456.88" width="4.2" height="3.42" fill="#ee1100"/>
<rect x="453.64" y="456.88" width="4.2" height="3.42" fill="#ee1100"/>
<rect x="460.3" y="456.88" width="4.2" height="3.42" fill="#ee1100"/>
<rect x="466.97" y="455.01" width="4.2" height="5.29" fill="#ee1100"/>
<rect x="473.63" y="453.76" width="4.2" height="6.54" fill="#ee1100"/>
<rect x="480.3" y="448.97" width="4.2" height="11.33" fill="#ee1100"/>
<rect x="486.96" y="446.06" width="4.2" height="14.24" fill="#ee1100"/>
<rect x="493.63" y="448.97" width="4.2" height="11.33" fill="#ee1100"/>
<rect x="500.3" y="453.97" width="4.2" height="6.33" fill="#ee1100"/>
<rect x="506.96" y="457.09" width="4.2" height="3.21" fill="#ee1100"/>
<rect x="513.63" y="460.3" width="4.2" height="1.57" fill="#00a000"/>
<rect x="520.29" y="460.3" width="4.2" height="3.44" fill="#00a000"/>
<rect x="526.96" y="460.3" width="4.2" height="0.32" fill="#00a000"/>
<rect x="533.62" y="460.3" width="4.2" height="1.16" fill="#00a000"/>
<rect x="540.29" y="460.3" width="4.2" height="0.53" fill="#00a000"/>
<rect x="546.96" y="458.96" width="4.2" height="1.34" fill="#ee1100"/>
<rect x="553.62" y="456.25" width="4.2" height="4.05" fill="#ee1100"/>
<rect x="560.29" y="452.09" width="4.2" height="8.21" fill="#ee1100"/>
<rect x="566.95" y="450.43" width="4.2" height="9.87" fill="#ee1100"/>
<rect x="573.62" y="448.97" width="4.2" height="11.33" fill="#ee1100"/>
<rect x="580.28" y="455.01" width="4.2" height="5.29" fill="#ee1100"/>
<rect x="586.95" y="460.3" width="4.2" height="2.4" fill="#00a000"/>
<rect x="593.62" y="460.3" width="4.2" height="10.73" fill="#00a000"/>
<rect x="600.28" y="460.3" width="4.2" height="16.35" fill="#00a000"/>
<rect x="606.95" y="460.3" width="4.2" height="18.01" fill="#00a000"/>
<rect x="613.61" y="460.3" width="4.2" height="17.39" fill="#00a000"/>
<rect x="620.28" y="460.3" width="4.2" height="13.85" fill="#00a000"/>
<rect x="626.94" y="460.3" width="4.2" height="13.02" fill="#00a000"/>
<rect x="633.61" y="460.3" width="4.2" height="8.44" fill="#00a000"/>
<rect x="640.28" y="460.3" width="4.2" height="6.57" fill="#00a000"/>
<rect x="646.94" y="460.3" width="4.2" height="0.95" fill="#00a000"/>
<rect x="653.61" y="458.33" width="4.2" height="1.97" fill="#ee1100"/>
<rect x="660.27" y="460.3" width="4.2" height="0.32" fill="#00a000"/>
<path fill="none" stroke="#4aa3f0" stroke-width="1.0" stroke-linejoin="round" d="M12.3 464.37C12.53 464.26 15.12 462.95 15.8 462.7C16.48 462.45 21.58 461.07 22.47 460.62C23.35 460.18 28.24 456.43 29.13 456.05C30.02 455.66 34.91 454.95 35.8 454.8C36.69 454.65 41.57 453.95 42.46 453.76C43.35 453.56 48.24 452.22 49.13 451.88C50.02 451.55 54.91 449.32 55.79 448.76C56.68 448.21 61.57 444.3 62.46 443.56C63.35 442.83 68.24 438.5 69.13 437.74C70.01 436.97 74.9 432.88 75.79 432.12C76.68 431.35 81.57 427.08 82.46 426.29C83.35 425.5 88.23 420.74 89.12 420.26C90.01 419.77 94.9 419.02 95.79 419.01C96.68 419.01 101.57 420.05 102.45 420.05C103.34 420.01 108.23 418.5 109.12 418.38C110.01 418.38 114.9 418.38 115.79 418.38C116.67 418.33 121.56 417.58 122.45 417.55C123.34 417.55 128.23 417.97 129.12 417.97C130.01 417.93 134.89 417.11 135.78 416.93C136.67 416.75 141.56 415.4 142.45 415.26C143.34 415.13 148.23 414.93 149.11 414.85C150 414.76 154.89 414.02 155.78 414.02C156.67 414.02 161.56 414.7 162.45 414.85C163.33 415 168.22 416.1 169.11 416.3C170 416.51 174.89 417.58 175.78 417.97C176.67 418.36 181.55 421.58 182.44 422.13C183.33 422.69 188.22 425.74 189.11 426.29C190 426.85 194.89 429.9 195.77 430.45C196.66 431.01 201.55 434.14 202.44 434.61C203.33 435.09 208.22 437.17 209.11 437.53C209.99 437.89 214.88 439.83 215.77 440.02C216.66 440.22 221.55 440.41 222.44 440.44C223.33 440.44 228.21 440.44 229.1 440.44C229.99 440.25 234.88 437.94 235.77 437.53C236.66 437.11 241.55 434.45 242.43 434.2C243.32 433.95 248.21 433.78 249.1 433.78C249.99 434.03 254.88 437.61 255.77 437.94C256.65 438.28 261.54 438.78 262.43 438.78C263.32 438.69 268.21 436.93 269.1 436.7C269.99 436.46 274.87 435.27 275.76 435.24C276.65 435.24 281.54 436.14 282.43 436.28C283.32 436.42 288.2 437.13 289.09 437.32C289.98 437.51 294.87 438.93 295.76 439.19C296.65 439.46 301.54 441.02 302.43 441.27C303.31 441.52 308.2 442.69 309.09 442.94C309.98 443.19 314.87 444.8 315.76 445.02C316.65 445.24 321.53 446.13 322.42 446.27C323.31 446.41 328.2 446.99 329.09 447.1C329.98 447.21 334.86 447.9 335.75 447.93C336.64 447.93 341.53 447.71 342.42 447.52C343.31 447.32 348.2 445.32 349.09 445.02C349.97 444.71 354.86 442.99 355.75 442.94C356.64 442.94 361.53 443.85 362.42 444.19C363.31 444.52 368.19 447.42 369.08 447.93C369.97 448.44 374.86 451.41 375.75 451.88C376.64 452.36 381.52 454.8 382.41 455.01C383.3 455.01 388.19 455.01 389.08 455.01C389.97 454.92 394.86 453.85 395.74 453.76C396.63 453.66 401.52 453.55 402.41 453.55C403.3 453.55 408.19 453.74 409.08 453.76C409.97 453.76 414.85 453.76 415.74 453.76C416.63 453.76 421.52 453.76 422.41 453.76C423.3 453.87 428.18 455.2 429.07 455.42C429.96 455.64 434.85 456.89 435.74 457.09C436.63 457.28 441.52 458.21 442.4 458.33C443.29 458.46 448.18 458.89 449.07 458.96C449.96 459.03 454.85 459.35 455.74 459.38C456.62 459.38 461.51 459.38 462.4 459.38C463.29 459.36 468.18 459.2 469.07 459.17C469.96 459.14 474.84 459.06 475.73 458.96C476.62 458.86 481.51 457.82 482.4 457.71C483.29 457.6 488.18 457.29 489.06 457.29C489.95 457.42 494.84 459.22 495.73 459.58C496.62 459.94 501.51 462.3 502.4 462.7C503.28 463.11 508.17 465.27 509.06 465.62C509.95 465.96 514.84 467.57 515.73 467.91C516.62 468.24 521.5 470.44 522.39 470.61C523.28 470.61 528.17 470.5 529.06 470.4C529.95 470.31 534.84 469.24 535.72 469.15C536.61 469.15 541.5 469.15 542.39 469.15C543.28 469.07 548.17 468.1 549.06 467.91C549.94 467.71 554.83 466.45 555.72 466.24C556.61 466.03 561.5 464.85 562.39 464.79C563.28 464.79 568.16 465.15 569.05 465.2C569.94 465.26 574.83 465.34 575.72 465.62C576.61 465.89 581.5 468.79 582.38 469.36C583.27 469.93 588.16 473.55 589.05 474.15C589.94 474.75 594.83 477.88 595.72 478.31C596.6 478.74 601.49 480.54 602.38 480.6C603.27 480.6 608.16 479.38 609.05 479.14C609.94 478.91 614.82 477.37 615.71 477.06C616.6 476.76 621.49 474.93 622.38 474.56C623.27 474.2 628.16 472.07 629.04 471.65C629.93 471.24 634.82 468.75 635.71 468.32C636.6 467.89 641.49 465.62 642.38 465.2C643.26 464.79 648.15 462.45 649.04 462.08C649.93 461.71 654.82 459.71 655.71 459.58C656.6 459.58 661.93 460.17 662.37 460.21"/>
<path fill="none" stroke="#f57a20" stroke-width="1.0" stroke-linejoin="round" d="M12.3 453.76C12.53 453.66 15.12 452.58 15.8 452.3C16.48 452.02 21.58 449.97 22.47 449.6C23.35 449.22 28.24 447.07 29.13 446.68C30.02 446.29 34.91 444.13 35.8 443.77C36.69 443.41 41.57 441.65 42.46 441.27C43.35 440.9 48.24 438.6 49.13 438.15C50.02 437.71 54.91 435.09 55.79 434.61C56.68 434.14 61.57 431.55 62.46 431.08C63.35 430.61 68.24 427.98 69.13 427.54C70.01 427.1 74.9 424.82 75.79 424.42C76.68 424.02 81.57 421.84 82.46 421.51C83.35 421.17 88.23 419.59 89.12 419.43C90.01 419.26 94.9 419.05 95.79 419.01C96.68 418.97 101.57 418.84 102.45 418.8C103.34 418.76 108.23 418.41 109.12 418.38C110.01 418.38 114.9 418.38 115.79 418.38C116.67 418.37 121.56 418.18 122.45 418.18C123.34 418.18 128.23 418.33 129.12 418.38C130.01 418.44 134.89 418.93 135.78 419.01C136.67 419.09 141.56 419.52 142.45 419.63C143.34 419.74 148.23 420.48 149.11 420.67C150 420.87 154.89 422.28 155.78 422.55C156.67 422.81 161.56 424.38 162.45 424.63C163.33 424.88 168.22 426.04 169.11 426.29C170 426.54 174.89 428.07 175.78 428.37C176.67 428.68 181.55 430.54 182.44 430.87C183.33 431.2 188.22 433.06 189.11 433.37C190 433.67 194.89 435.18 195.77 435.45C196.66 435.71 201.55 437.13 202.44 437.32C203.33 437.51 208.22 438.28 209.11 438.36C209.99 438.44 214.88 438.55 215.77 438.57C216.66 438.57 221.55 438.57 222.44 438.57C223.33 438.54 228.21 438.22 229.1 438.15C229.99 438.08 234.88 437.6 235.77 437.53C236.66 437.46 241.55 437.11 242.43 437.11C243.32 437.11 248.21 437.4 249.1 437.53C249.99 437.65 254.88 438.86 255.77 438.98C256.65 439.11 261.54 439.37 262.43 439.4C263.32 439.4 268.21 439.4 269.1 439.4C269.99 439.44 274.87 439.9 275.76 440.02C276.65 440.15 281.54 441.11 282.43 441.27C283.32 441.44 288.2 442.37 289.09 442.52C289.98 442.67 294.87 443.42 295.76 443.56C296.65 443.7 301.54 444.45 302.43 444.6C303.31 444.75 308.2 445.68 309.09 445.85C309.98 446.02 314.87 446.99 315.76 447.1C316.65 447.21 321.53 447.46 322.42 447.52C323.31 447.57 328.2 447.86 329.09 447.93C329.98 448 334.86 448.5 335.75 448.56C336.64 448.61 341.53 448.72 342.42 448.76C343.31 448.81 348.2 449.11 349.09 449.18C349.97 449.25 354.86 449.67 355.75 449.8C356.64 449.94 361.53 451.05 362.42 451.26C363.31 451.47 368.19 452.72 369.08 452.93C369.97 453.13 374.86 454.23 375.75 454.38C376.64 454.53 381.52 455.16 382.41 455.21C383.3 455.21 388.19 455.21 389.08 455.21C389.97 455.21 394.86 455.21 395.74 455.21C396.63 455.24 401.52 455.56 402.41 455.63C403.3 455.7 408.19 456.16 409.08 456.25C409.97 456.35 414.85 456.98 415.74 457.09C416.63 457.2 421.52 457.82 422.41 457.92C423.3 458.02 428.18 458.46 429.07 458.54C429.96 458.63 434.85 459.1 435.74 459.17C436.63 459.24 441.52 459.53 442.4 459.58C443.29 459.64 448.18 459.94 449.07 460C449.96 460.06 454.85 460.36 455.74 460.42C456.62 460.47 461.51 460.76 462.4 460.83C463.29 460.9 468.18 461.39 469.07 461.46C469.96 461.53 474.84 461.79 475.73 461.87C476.62 461.96 481.51 462.57 482.4 462.7C483.29 462.84 488.18 463.79 489.06 463.95C489.95 464.12 494.84 465.03 495.73 465.2C496.62 465.37 501.51 466.27 502.4 466.45C503.28 466.63 508.17 467.73 509.06 467.91C509.95 468.09 514.84 469.04 515.73 469.15C516.62 469.27 521.5 469.57 522.39 469.57C523.28 469.57 528.17 469.22 529.06 469.15C529.95 469.09 534.84 468.59 535.72 468.53C536.61 468.48 541.5 468.34 542.39 468.32C543.28 468.32 548.17 468.32 549.06 468.32C549.94 468.31 554.83 468.11 555.72 468.11C556.61 468.16 561.5 468.82 562.39 468.95C563.28 469.07 568.16 469.83 569.05 469.99C569.94 470.14 574.83 471.07 575.72 471.24C576.61 471.4 581.5 472.33 582.38 472.48C583.27 472.64 588.16 473.47 589.05 473.52C589.94 473.52 594.83 473.43 595.72 473.32C596.6 473.21 601.49 472.14 602.38 471.86C603.27 471.58 608.16 469.49 609.05 469.15C609.94 468.82 614.82 467.14 615.71 466.87C616.6 466.59 621.49 465.2 622.38 464.99C623.27 464.79 628.16 463.91 629.04 463.74C629.93 463.58 634.82 462.66 635.71 462.5C636.6 462.33 641.49 461.39 642.38 461.25C643.26 461.11 648.15 460.51 649.04 460.42C649.93 460.32 654.82 459.81 655.71 459.79C656.6 459.79 661.93 460.18 662.37 460.21"/>
<polyline fill="none" stroke="#35c3e3" stroke-width="1.0" stroke-linejoin="round" points="12.3,575.28 15.8,574.48 22.47,574.69 29.13,568.66 35.8,574.66 42.46,580.07 49.13,581.84 55.79,582.6 62.46,581.11 69.13,577.85 75.79,573.96 82.46,566.99 89.12,552.84 95.79,548.89 102.45,555.17 109.12,551.53 115.79,552.43 122.45,548.75 129.12,553.47 135.78,548.44 142.45,541.44 149.11,536.37 155.78,535.4 162.45,535.82 169.11,536.75 175.78,536.86 182.44,539.88 189.11,542.09 195.77,545.08 202.44,549.45 209.11,554.41 215.77,561.97 222.44,564.36 229.1,568.21 235.77,565.71 242.43,560.86 249.1,558.88 255.77,568.31 262.43,569.7 269.1,560.96 275.76,551.98 282.43,550.52 289.09,546.22 295.76,547.19 302.43,550.17 309.09,551.49 315.76,558.19 322.42,561.55 329.09,564.36 335.75,564.08 342.42,563.46 349.09,556.76 355.75,550.28 362.42,550.11 369.08,555.27 375.75,556.59 382.41,564.81 389.08,563.42 395.74,556.59 402.41,553.4 409.08,554.13 415.74,552.26 422.41,550.07 429.07,555.55 435.74,558.12 442.4,562.9 449.07,564.43 455.74,563.94 462.4,563.08 469.07,556.73 475.73,553.85 482.4,547.71 489.06,544.63 495.73,549.79 502.4,557.18 509.06,560.82 515.73,571.78 522.39,577.71 529.06,573.58 535.72,576.74 542.39,574.35 549.06,568.42 555.72,563.08 562.39,555.1 569.05,553.05 575.72,550.76 582.38,559.12 589.05,569.39 595.72,581.25 602.38,588.32 609.05,587.18 615.71,585.86 622.38,581.14 629.04,582.39 635.71,578.2 642.38,579.69 649.04,575.77 655.71,577.43 662.37,590.47"/>
<polyline fill="none" stroke="#8e5bd3" stroke-width="1.0" stroke-linejoin="round" points="12.3,574.66 15.8,574.66 22.47,574.66 29.13,574.24 35.8,576.74 42.46,578.4 49.13,577.15 55.79,575.07 62.46,571.74 69.13,567.58 75.79,563.01 82.46,557.18 89.12,550.94 95.79,550.11 102.45,551.35 109.12,549.69 115.79,548.44 122.45,546.78 129.12,545.32 135.78,542.2 142.45,539.08 149.11,537.41 155.78,538.45 162.45,539.7 169.11,541.37 175.78,543.24 182.44,545.74 189.11,549.27 195.77,553.02 202.44,556.76 209.11,560.72 215.77,564.46 222.44,564.05 229.1,563.84 235.77,562.59 242.43,561.55 249.1,561.34 255.77,562.38 262.43,559.68 269.1,555.52 275.76,551.98 282.43,550.52 289.09,550.52 295.76,552.6 302.43,555.1 309.09,557.8 315.76,560.72 322.42,561.34 329.09,561.34 335.75,559.88 342.42,557.6 349.09,555.52 355.75,553.43 362.42,555.52 369.08,557.6 375.75,558.64 382.41,560.3 389.08,558.01 395.74,555.52 402.41,554.27 409.08,554.27 415.74,554.89 422.41,556.14 429.07,558.64 435.74,560.3 442.4,561.55 449.07,561.13 455.74,559.68 462.4,557.6 469.07,555.1 475.73,553.43 482.4,552.39 489.06,554.68 495.73,559.68 502.4,564.46 509.06,568.42 515.73,572.37 522.39,573.41 529.06,571.33 535.72,569.87 542.39,566.96 549.06,563.84 555.72,561.34 562.39,559.26 569.05,560.72 575.72,564.67 582.38,571.74 589.05,579.03 595.72,584.23 602.38,585.69 609.05,584.23 615.71,582.98 622.38,581.32 629.04,581.32 635.71,580.48 642.38,582.15 649.04,583.19 655.71,586.31 662.37,590.47"/>
<polyline fill="none" stroke="#5cb85c" stroke-width="1.0" stroke-linejoin="round" points="12.3,576.32 15.8,574.24 22.47,574.87 29.13,557.6 35.8,571.74 42.46,584.65 49.13,591.51 55.79,597.75 62.46,599.83 69.13,597.96 75.79,595.05 82.46,583.61 89.12,553.02 95.79,545.32 102.45,563.01 109.12,554.47 115.79,559.88 122.45,552.39 129.12,569.25 135.78,560.93 142.45,545.74 149.11,534.29 155.78,529.51 162.45,528.26 169.11,527.43 175.78,524.3 182.44,528.05 189.11,527.43 195.77,529.09 202.44,534.71 209.11,541.57 215.77,558.84 222.44,565.92 229.1,576.32 235.77,571.33 242.43,559.26 249.1,554.06 255.77,581.11 262.43,589.85 269.1,570.7 275.76,551.98 282.43,550.52 289.09,538.45 295.76,536.37 302.43,541.16 309.09,539.29 315.76,556.14 322.42,562.59 329.09,570.08 335.75,572.58 342.42,575.28 349.09,559.26 355.75,543.24 362.42,539.29 369.08,551.15 375.75,551.98 382.41,574.24 389.08,574.24 395.74,558.22 402.41,551.56 409.08,554.06 415.74,547.19 422.41,537.83 429.07,549.48 435.74,553.43 442.4,565.92 449.07,570.91 455.74,572.79 462.4,574.24 469.07,559.88 475.73,554.68 482.4,538.04 489.06,524.3 495.73,529.71 502.4,542.61 509.06,545.32 515.73,570.7 522.39,586.73 529.06,578.61 535.72,590.47 542.39,589.43 549.06,576.95 555.72,565.5 562.39,546.78 569.05,537.83 575.72,522.43 582.38,532.21 589.05,548.65 595.72,575.7 602.38,593.38 609.05,593.18 615.71,591.51 622.38,580.9 629.04,585.27 635.71,573.62 642.38,575.49 649.04,561.76 655.71,559.26 662.37,590.47"/>
<polyline fill="none" stroke="#f57a20" stroke-width="1.0" stroke-linejoin="round" points="12.3,680.16 15.8,678.7 22.47,686.61 29.13,676.62 35.8,669.76 42.46,676.62 49.13,682.24 55.79,688.69 62.46,686.4 69.13,683.91 75.79,682.45 82.46,681.2 89.12,664.56 95.79,649.57 102.45,659.35 109.12,656.44 115.79,659.35 122.45,648.12 129.12,654.36 135.78,662.47 142.45,649.78 149.11,650.61 155.78,648.53 162.45,648.12 169.11,650.2 175.78,642.29 182.44,644.79 189.11,647.08 195.77,647.91 202.44,652.28 209.11,654.78 215.77,663.1 222.44,665.18 229.1,674.54 235.77,674.13 242.43,662.68 249.1,648.53 255.77,659.56 262.43,671.84 269.1,670.38 275.76,648.53 282.43,653.11 289.09,652.28 295.76,647.49 302.43,653.32 309.09,652.9 315.76,658.31 322.42,659.77 329.09,663.52 335.75,667.26 342.42,675.58 349.09,671.01 355.75,657.27 362.42,645.41 369.08,649.99 375.75,651.66 382.41,666.22 389.08,678.7 395.74,669.34 402.41,661.64 409.08,666.22 415.74,666.22 422.41,651.45 429.07,658.31 435.74,658.94 442.4,665.18 449.07,666.43 455.74,666.22 462.4,671.42 469.07,669.97 475.73,675.58 482.4,669.76 489.06,652.28 495.73,652.49 502.4,659.35 509.06,659.35 515.73,669.76 522.39,683.91 529.06,670.38 535.72,674.54 542.39,680.37 549.06,678.5 555.72,678.08 562.39,669.55 569.05,669.55 575.72,651.24 582.38,652.7 589.05,657.06 595.72,669.13 602.38,688.07 609.05,688.69 615.71,694.52 622.38,687.65 629.04,695.77 635.71,689.32 642.38,695.35 649.04,686.2 655.71,628.77 662.37,707.42"/>
<polyline fill="none" stroke="#b45ccc" stroke-width="1.0" stroke-linejoin="round" points="12.3,675.17 15.8,675.58 22.47,678.7 29.13,672.88 35.8,669.34 42.46,672.46 49.13,674.54 55.79,676.62 62.46,675.58 69.13,673.5 75.79,672.05 82.46,671.01 89.12,661.43 95.79,652.28 102.45,657.48 109.12,655.82 115.79,657.27 122.45,652.07 129.12,655.19 135.78,658.31 142.45,653.32 149.11,653.74 155.78,652.7 162.45,652.28 169.11,653.11 175.78,650.2 182.44,651.66 189.11,652.9 195.77,653.94 202.44,656.86 209.11,658.52 215.77,663.1 222.44,664.76 229.1,668.93 235.77,669.34 242.43,662.47 249.1,653.32 255.77,659.98 262.43,665.6 269.1,665.18 275.76,654.78 282.43,656.86 289.09,656.44 295.76,654.36 302.43,658.31 309.09,658.31 315.76,661.02 322.42,661.43 329.09,663.52 335.75,665.6 342.42,669.97 349.09,667.26 355.75,659.56 362.42,653.11 369.08,657.27 375.75,657.9 382.41,665.8 389.08,671.84 395.74,667.88 402.41,664.14 409.08,666.22 415.74,666.22 422.41,659.98 429.07,663.52 435.74,664.35 442.4,667.26 449.07,667.26 455.74,667.26 462.4,670.59 469.07,669.34 475.73,671.84 482.4,669.34 489.06,660.39 495.73,660.19 502.4,665.18 509.06,665.39 515.73,671.42 522.39,679.74 529.06,671.84 535.72,674.54 542.39,677.04 549.06,676 555.72,675.58 562.39,670.59 569.05,670.59 575.72,659.98 582.38,661.02 589.05,664.56 595.72,672.05 602.38,688.07 609.05,688.69 615.71,693.69 622.38,687.65 629.04,694.93 635.71,689.32 642.38,694.93 649.04,685.78 655.71,628.77 662.37,707.42"/>
<polyline fill="none" stroke="#5cb85c" stroke-width="1.0" stroke-linejoin="round" points="12.3,669.76 15.8,669.76 22.47,671.01 29.13,667.68 35.8,665.6 42.46,667.26 49.13,667.88 55.79,668.93 62.46,668.3 69.13,667.26 75.79,666.22 82.46,665.18 89.12,659.98 95.79,655.19 102.45,657.48 109.12,656.86 115.79,657.48 122.45,655.19 129.12,656.86 135.78,658.31 142.45,656.44 149.11,656.44 155.78,656.44 162.45,656.44 169.11,656.44 175.78,655.19 182.44,656.23 189.11,657.27 195.77,657.48 202.44,659.35 209.11,660.39 215.77,663.1 222.44,663.93 229.1,666.22 235.77,666.43 242.43,662.68 249.1,657.48 255.77,661.02 262.43,664.76 269.1,664.35 275.76,658.94 282.43,660.19 289.09,659.98 295.76,658.94 302.43,661.02 309.09,661.23 315.76,663.1 322.42,663.52 329.09,664.56 335.75,665.8 342.42,668.51 349.09,666.64 355.75,662.68 362.42,659.35 369.08,662.06 375.75,662.68 382.41,666.84 389.08,670.38 395.74,668.3 402.41,666.22 409.08,667.26 415.74,667.26 422.41,664.56 429.07,666.22 435.74,666.64 442.4,668.51 449.07,668.72 455.74,668.93 462.4,670.59 469.07,669.76 475.73,671.42 482.4,669.34 489.06,664.56 495.73,664.56 502.4,668.3 509.06,668.51 515.73,672.46 522.39,677.66 529.06,672.67 535.72,674.75 542.39,676.42 549.06,675.58 555.72,675.17 562.39,671.21 569.05,671.21 575.72,664.14 582.38,665.18 589.05,668.51 595.72,675.17 602.38,688.07 609.05,688.69 615.71,693.06 622.38,687.65 629.04,694.1 635.71,689.32 642.38,694.73 649.04,685.57 655.71,628.77 662.37,707.42"/>
<line x1="702.5" y1="36" x2="702.5" y2="743" stroke="#222"/>
<line x1="12" y1="393.5" x2="701" y2="393.5" stroke="#111" stroke-width="1.25"/>
<line x1="703" y1="393.5" x2="760" y2="393.5" stroke="#222" stroke-width="0.9"/>
<line x1="12" y1="501.5" x2="701" y2="501.5" stroke="#111" stroke-width="1.25"/>
<line x1="703" y1="501.5" x2="760" y2="501.5" stroke="#222" stroke-width="0.9"/>
<line x1="12" y1="609.5" x2="701" y2="609.5" stroke="#111" stroke-width="1.25"/>
<line x1="703" y1="609.5" x2="760" y2="609.5" stroke="#222" stroke-width="0.9"/>
<line x1="12" y1="718.5" x2="701.5" y2="718.5" stroke="#999"/>
<line x1="702" y1="718.5" x2="760" y2="718.5" stroke="#222"/>
<line x1="703" y1="59.5" x2="706" y2="59.5" stroke="#777"/>
<text x="708.4" y="63" font-size="10.5" fill="#222" textLength="29" lengthAdjust="spacingAndGlyphs">1.4700</text>
<line x1="703" y1="84.5" x2="706" y2="84.5" stroke="#777"/>
<text x="708.4" y="88" font-size="10.5" fill="#222" textLength="29" lengthAdjust="spacingAndGlyphs">1.4599</text>
<line x1="703" y1="109.5" x2="706" y2="109.5" stroke="#777"/>
<text x="708.4" y="113" font-size="10.5" fill="#222" textLength="29" lengthAdjust="spacingAndGlyphs">1.4497</text>
<line x1="703" y1="134.5" x2="706" y2="134.5" stroke="#777"/>
<text x="708.4" y="138" font-size="10.5" fill="#222" textLength="29" lengthAdjust="spacingAndGlyphs">1.4395</text>
<line x1="703" y1="159.5" x2="706" y2="159.5" stroke="#777"/>
<text x="708.4" y="163" font-size="10.5" fill="#222" textLength="29" lengthAdjust="spacingAndGlyphs">1.4293</text>
<line x1="703" y1="184.5" x2="706" y2="184.5" stroke="#777"/>
<text x="708.4" y="188" font-size="10.5" fill="#222" textLength="29" lengthAdjust="spacingAndGlyphs">1.4191</text>
<line x1="703" y1="209.5" x2="706" y2="209.5" stroke="#777"/>
<text x="708.4" y="213" font-size="10.5" fill="#222" textLength="29" lengthAdjust="spacingAndGlyphs">1.4090</text>
<line x1="703" y1="234.5" x2="706" y2="234.5" stroke="#777"/>
<text x="708.4" y="238" font-size="10.5" fill="#222" textLength="29" lengthAdjust="spacingAndGlyphs">1.3988</text>
<line x1="703" y1="259.5" x2="706" y2="259.5" stroke="#777"/>
<text x="708.4" y="263" font-size="10.5" fill="#222" textLength="29" lengthAdjust="spacingAndGlyphs">1.3886</text>
<line x1="703" y1="284.5" x2="706" y2="284.5" stroke="#777"/>
<text x="708.4" y="288" font-size="10.5" fill="#222" textLength="29" lengthAdjust="spacingAndGlyphs">1.3784</text>
<line x1="703" y1="334.5" x2="706" y2="334.5" stroke="#777"/>
<text x="708.4" y="338" font-size="10.5" fill="#222" textLength="29" lengthAdjust="spacingAndGlyphs">1.3581</text>
<line x1="703" y1="359.5" x2="706" y2="359.5" stroke="#777"/>
<text x="708.4" y="363" font-size="10.5" fill="#222" textLength="29" lengthAdjust="spacingAndGlyphs">1.3479</text>
<line x1="703" y1="384.5" x2="706" y2="384.5" stroke="#777"/>
<text x="708.4" y="388" font-size="10.5" fill="#222" textLength="29" lengthAdjust="spacingAndGlyphs">1.3377</text>
<line x1="703" y1="417.5" x2="706" y2="417.5" stroke="#777"/>
<text x="708.4" y="421" font-size="10.5" fill="#222" textLength="29" lengthAdjust="spacingAndGlyphs">0.0148</text>
<line x1="703" y1="442.4" x2="706" y2="442.4" stroke="#777"/>
<text x="708.4" y="445.9" font-size="10.5" fill="#222" textLength="29" lengthAdjust="spacingAndGlyphs">0.0063</text>
<line x1="703" y1="467.4" x2="706" y2="467.4" stroke="#777"/>
<text x="708.4" y="470.9" font-size="10.5" fill="#222" textLength="32.5" lengthAdjust="spacingAndGlyphs">-0.0022</text>
<line x1="703" y1="492.5" x2="706" y2="492.5" stroke="#777"/>
<text x="708.4" y="496" font-size="10.5" fill="#222" textLength="32.5" lengthAdjust="spacingAndGlyphs">-0.0107</text>
<line x1="703" y1="525.3" x2="706" y2="525.3" stroke="#777"/>
<text x="708.4" y="528.8" font-size="10.5" fill="#222" textLength="40" lengthAdjust="spacingAndGlyphs">105.0795</text>
<line x1="703" y1="550.4" x2="706" y2="550.4" stroke="#777"/>
<text x="708.4" y="553.9" font-size="10.5" fill="#222" textLength="34.5" lengthAdjust="spacingAndGlyphs">68.5137</text>
<line x1="703" y1="575.5" x2="706" y2="575.5" stroke="#777"/>
<text x="708.4" y="579" font-size="10.5" fill="#222" textLength="34.5" lengthAdjust="spacingAndGlyphs">31.9479</text>
<line x1="703" y1="600.4" x2="706" y2="600.4" stroke="#777"/>
<text x="708.4" y="603.9" font-size="10.5" fill="#222" textLength="32.5" lengthAdjust="spacingAndGlyphs">-4.6179</text>
<line x1="703" y1="633.4" x2="706" y2="633.4" stroke="#777"/>
<text x="708.4" y="636.9" font-size="10.5" fill="#222" textLength="34.5" lengthAdjust="spacingAndGlyphs">96.9238</text>
<line x1="703" y1="658.4" x2="706" y2="658.4" stroke="#777"/>
<text x="708.4" y="661.9" font-size="10.5" fill="#222" textLength="34.5" lengthAdjust="spacingAndGlyphs">64.3311</text>
<line x1="703" y1="684" x2="706" y2="684" stroke="#777"/>
<text x="708.4" y="687.5" font-size="10.5" fill="#222" textLength="34.5" lengthAdjust="spacingAndGlyphs">31.7383</text>
<line x1="703" y1="709.2" x2="706" y2="709.2" stroke="#777"/>
<text x="708.4" y="712.7" font-size="10.5" fill="#222" textLength="32.5" lengthAdjust="spacingAndGlyphs">-0.8545</text>
<rect x="704" y="298" width="55" height="14.5" fill="#00a000"/>
<line x1="704" y1="305.5" x2="707" y2="305.5" stroke="#fff"/>
<text x="709.3" y="310" font-size="10.5" fill="#fff" textLength="29" lengthAdjust="spacingAndGlyphs">1.3701</text>
<line x1="209.5" y1="719" x2="209.5" y2="721" stroke="#333"/>
<text x="209.5" y="731.5" font-size="10" fill="#111" text-anchor="middle">3月</text>
<line x1="375.5" y1="719" x2="375.5" y2="721" stroke="#333"/>
<text x="375.5" y="731.5" font-size="10" fill="#111" text-anchor="middle">4月</text>
<line x1="535.5" y1="719" x2="535.5" y2="721" stroke="#333"/>
<text x="535.5" y="731.5" font-size="10" fill="#111" text-anchor="middle">5月</text>
<text x="20.5" y="53.3" font-size="11.5" fill="#222">开:</text>
<text x="35.4" y="53.3" font-size="12" fill="#1fab1f" textLength="33" lengthAdjust="spacingAndGlyphs" stroke="#1fab1f" stroke-width="0.3">1.3751</text>
<text x="79.8" y="53.3" font-size="11.5" fill="#222">高:</text>
<text x="95.4" y="53.3" font-size="12" fill="#1fab1f" textLength="33.5" lengthAdjust="spacingAndGlyphs" stroke="#1fab1f" stroke-width="0.3">1.3769</text>
<text x="139.3" y="53.3" font-size="11.5" fill="#222">低:</text>
<text x="155" y="53.3" font-size="12" fill="#1fab1f" textLength="33.7" lengthAdjust="spacingAndGlyphs" stroke="#1fab1f" stroke-width="0.3">1.3694</text>
<text x="199" y="53.3" font-size="11.5" fill="#222">收:</text>
<text x="214.5" y="53.3" font-size="12" fill="#1fab1f" textLength="32.2" lengthAdjust="spacingAndGlyphs" stroke="#1fab1f" stroke-width="0.3">1.3701</text>
<text x="21" y="68.2" font-size="11" fill="#ee4d7e" textLength="64.2" lengthAdjust="spacingAndGlyphs">MA5: 1.3641</text>
<text x="96.7" y="68.2" font-size="11" fill="#35c3e3" textLength="72.2" lengthAdjust="spacingAndGlyphs">MA10: 1.3546</text>
<text x="179.5" y="68.2" font-size="11" fill="#b45ccc" textLength="72.2" lengthAdjust="spacingAndGlyphs">MA20: 1.3569</text>
<text x="20.55" y="405.9" font-size="11" fill="#1fab1f" textLength="32.4" lengthAdjust="spacingAndGlyphs" stroke="#1fab1f" stroke-width="0.25">MACD:</text>
<text x="55.8" y="405.9" font-size="11" fill="#1fab1f" textLength="35.1" lengthAdjust="spacingAndGlyphs" stroke="#1fab1f" stroke-width="0.25">-0.0008</text>
<text x="102" y="405.9" font-size="11" fill="#4aa3f0" textLength="23.3" lengthAdjust="spacingAndGlyphs" stroke="#4aa3f0" stroke-width="0.25">DIFF:</text>
<text x="127.7" y="405.9" font-size="11" fill="#4aa3f0" textLength="34.9" lengthAdjust="spacingAndGlyphs" stroke="#4aa3f0" stroke-width="0.25">-0.0049</text>
<text x="173.2" y="405.9" font-size="11" fill="#f57a20" textLength="21.3" lengthAdjust="spacingAndGlyphs" stroke="#f57a20" stroke-width="0.25">DEA:</text>
<text x="197.2" y="405.9" font-size="11" fill="#f57a20" textLength="35.1" lengthAdjust="spacingAndGlyphs" stroke="#f57a20" stroke-width="0.25">-0.0045</text>
<text x="20.55" y="514.6" font-size="11" fill="#35c3e3" textLength="8.2" lengthAdjust="spacingAndGlyphs" stroke="#35c3e3" stroke-width="0.25">K:</text>
<text x="30.85" y="514.6" font-size="11" fill="#35c3e3" textLength="36.5" lengthAdjust="spacingAndGlyphs" stroke="#35c3e3" stroke-width="0.25">42.2960</text>
<text x="79.1" y="514.6" font-size="11" fill="#8e5bd3" textLength="8.6" lengthAdjust="spacingAndGlyphs" stroke="#8e5bd3" stroke-width="0.25">D:</text>
<text x="90.1" y="514.6" font-size="11" fill="#8e5bd3" textLength="37" lengthAdjust="spacingAndGlyphs" stroke="#8e5bd3" stroke-width="0.25">27.2878</text>
<text x="137.4" y="514.6" font-size="11" fill="#5cb85c" textLength="6" lengthAdjust="spacingAndGlyphs" stroke="#5cb85c" stroke-width="0.25">J:</text>
<text x="145.55" y="514.6" font-size="11" fill="#5cb85c" textLength="36.5" lengthAdjust="spacingAndGlyphs" stroke="#5cb85c" stroke-width="0.25">72.3123</text>
<text x="20.76" y="622.7" font-size="11" fill="#f57a20" textLength="29.6" lengthAdjust="spacingAndGlyphs" stroke="#f57a20" stroke-width="0.25">RSI(6):</text>
<text x="52.55" y="622.7" font-size="11" fill="#f57a20" textLength="36.4" lengthAdjust="spacingAndGlyphs" stroke="#f57a20" stroke-width="0.25">66.3409</text>
<text x="100.2" y="622.7" font-size="11" fill="#b45ccc" textLength="35.5" lengthAdjust="spacingAndGlyphs" stroke="#b45ccc" stroke-width="0.25">RSI(12):</text>
<text x="138.6" y="622.7" font-size="11" fill="#b45ccc" textLength="36" lengthAdjust="spacingAndGlyphs" stroke="#b45ccc" stroke-width="0.25">55.8700</text>
<text x="185.6" y="622.7" font-size="11" fill="#5cb85c" textLength="35.1" lengthAdjust="spacingAndGlyphs" stroke="#5cb85c" stroke-width="0.25">RSI(24):</text>
<text x="223.3" y="622.7" font-size="11" fill="#5cb85c" textLength="36.6" lengthAdjust="spacingAndGlyphs" stroke="#5cb85c" stroke-width="0.25">51.0229</text>
</svg>
</body></html>
